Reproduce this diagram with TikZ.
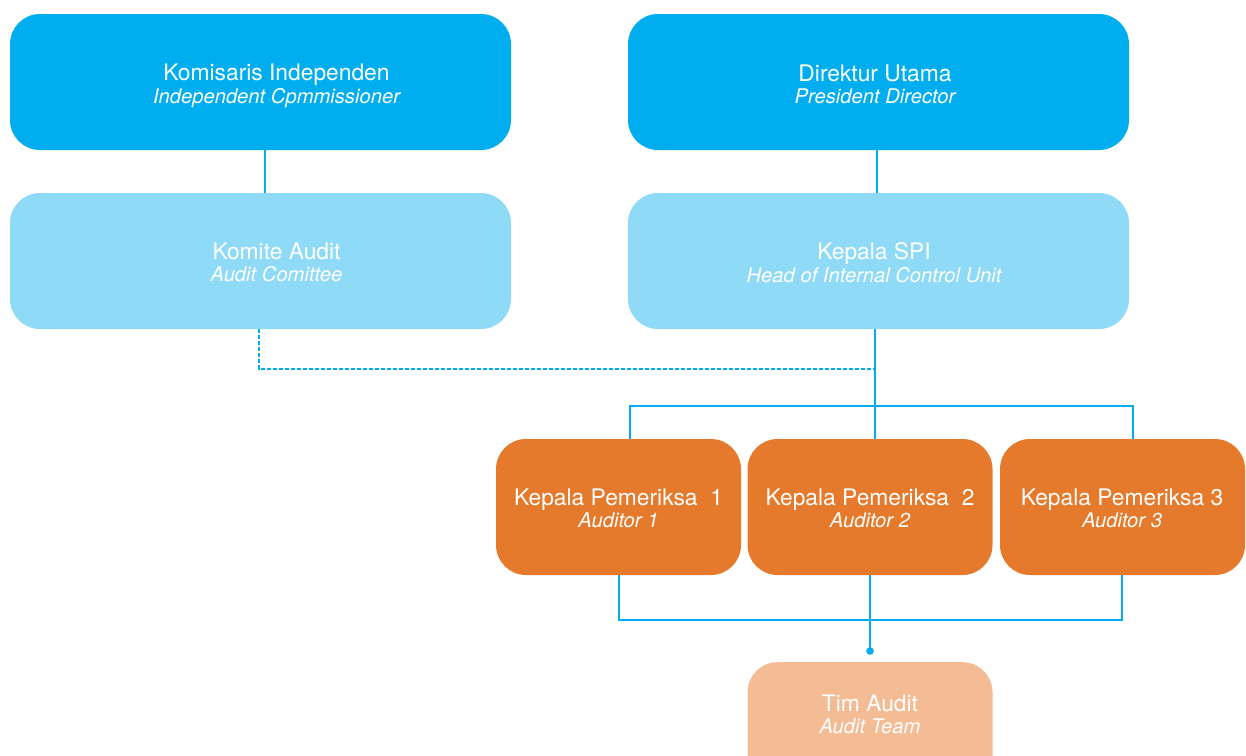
\documentclass[tikz,border=0pt]{standalone}
\usepackage{fontspec}
\setmainfont{TeX Gyre Heros}
\definecolor{dblue}{HTML}{00AEEF}
\definecolor{lblue}{HTML}{8FDAF7}
\definecolor{orng}{HTML}{E57A2C}
\definecolor{peach}{HTML}{F3BC95}
\definecolor{lineblue}{HTML}{00AEEF}
\newcommand{\subt}[1]{{\fontsize{20.2}{21}\selectfont\itshape #1\strut}}
\begin{document}
\begin{tikzpicture}[x=1pt,y=-1pt,
  box/.style={rounded corners=30pt, draw=none, inner sep=0pt},
  bigbox/.style={box, minimum width=501pt, minimum height=136pt},
  smallbox/.style={box, minimum width=245pt, minimum height=136pt},
  txt/.style={text=white, align=center, inner sep=0pt,
    font=\fontsize{22.8}{21}\selectfont},
  conn/.style={draw=lineblue, line width=1.4pt},
  dashconn/.style={draw=lineblue, line width=1.4pt, dash pattern=on 4pt off 2pt}]
\useasboundingbox (0,0) rectangle (1246,755);
\clip (0,0) rectangle (1246,755);
\node[bigbox, fill=dblue] (kom) at (260.5,82) {};
\node[bigbox, fill=dblue] (dir) at (878.5,82) {};
\node[bigbox, fill=lblue] (kau) at (260.5,261) {};
\node[bigbox, fill=lblue] (spi) at (878.5,261) {};
\node[smallbox, fill=orng] (kp1) at (618.5,507) {};
\node[smallbox, fill=orng] (kp2) at (870,507) {};
\node[smallbox, fill=orng] (kp3) at (1122.5,507) {};
\node[smallbox, fill=peach, anchor=north] (tim) at (870,662) {};
\node[txt] (komt) at (276.5,87) {Komisaris Independen\strut\\\subt{Independent Cpmmissioner}};
\node[txt] (dirt) at (875,87) {Direktur Utama\strut\\\subt{President Director}};
\node[txt] (kaut) at (276.5,265.5) {Komite Audit\strut\\\subt{Audit Comittee}};
\node[txt] (spit) at (874,265.5) {Kepala SPI\strut\\\subt{Head of Internal Control Unit}};
\node[txt] (kp1t) at (618.5,511.5) {Kepala Pemeriksa\ \ 1\strut\\\subt{Auditor 1}};
\node[txt] (kp2t) at (870,511.5) {Kepala Pemeriksa\ \ 2\strut\\\subt{Auditor 2}};
\node[txt] (kp3t) at (1122,511.5) {Kepala Pemeriksa 3\strut\\\subt{Auditor 3}};
\node[txt] (timt) at (870,717.5) {Tim Audit\strut\\\subt{Audit Team}};
\coordinate (dd) at (259,369);
\coordinate (de) at (875,369);
\coordinate (hl) at (630,406);
\coordinate (hr) at (1133,406);
\coordinate (hm) at (875,406);
\coordinate (bl) at (619,620);
\coordinate (br) at (1122,620);
\coordinate (bm) at (870,620);
\coordinate (dot) at (870,651);
\draw[conn] (kom.south -| 265,0) -- (kau.north -| 265,0);
\draw[conn] (dir.south -| 877,0) -- (spi.north -| 877,0);
\draw[dashconn] (kau.south -| dd) -- (dd) -- (de);
\draw[conn] (spi.south -| hm) -- (kp2.north -| hm);
\draw[conn] (kp1.north -| hl) -- (hl) -- (hr) -- (kp3.north -| hr);
\draw[conn] (kp1.south -| bl) -- (bl) -- (br) -- (kp3.south -| br);
\draw[conn] (kp2.south -| bm) -- (dot);
\fill[lineblue] (dot) circle (3.8pt);
\end{tikzpicture}
\end{document}
